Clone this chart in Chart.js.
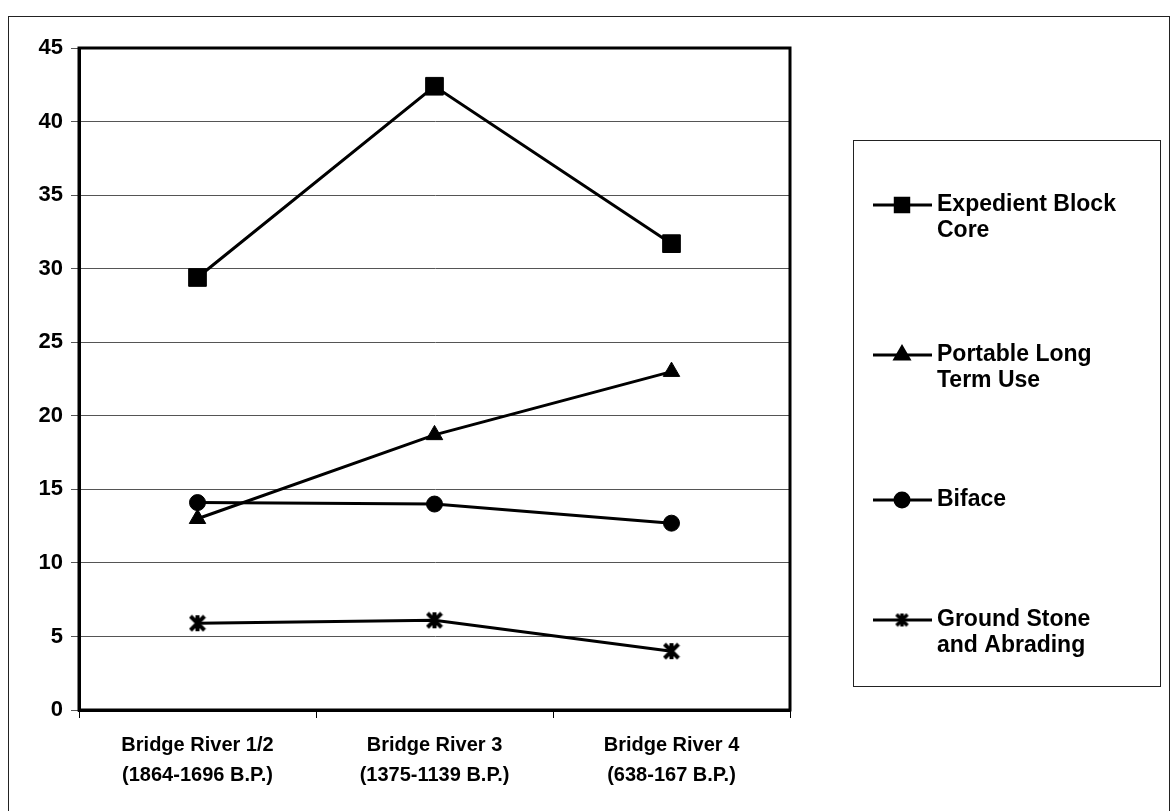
<!DOCTYPE html>
<html>
<head>
<meta charset="utf-8">
<script src="https://cdn.jsdelivr.net/npm/chart.js@4.4.0/dist/chart.umd.min.js"></script>
<style>
  html, body { margin: 0; padding: 0; background: #fff; }
  #wrap { position: relative; width: 1172px; height: 811px; }
  #frame { position: absolute; left: 8px; top: 16px; width: 1162px; height: 800px;
           border: 1px solid #222; box-sizing: border-box; }
  canvas { position: absolute; left: 0; top: 0; }
</style>
</head>
<body>
<div id="wrap">
  <div id="frame"></div>
  <canvas id="c" width="1172" height="811"></canvas>
</div>
<script>
// Tool-type frequencies by occupation period
const categories = [
  ['Bridge River 1/2', '(1864-1696 B.P.)'],
  ['Bridge River 3', '(1375-1139 B.P.)'],
  ['Bridge River 4', '(638-167 B.P.)']
];
const expedientBlockCore = [29.4, 42.4, 31.7];
const portableLongTerm = [13.0, 18.7, 23.0];
const biface = [14.1, 14.0, 12.7];
const groundStone = [5.9, 6.1, 4.0];

const seriesNames = [
  ['Expedient Block', 'Core'],
  ['Portable Long', 'Term Use'],
  ['Biface'],
  ['Ground Stone', 'and Abrading']
];
const yTicks = [0, 5, 10, 15, 20, 25, 30, 35, 40, 45];

const FONT = '"Liberation Sans", Arial, sans-serif';

// Asterisk marker: an X crossed by a vertical bar
function starMarker(size, lw) {
  const c = document.createElement('canvas');
  c.width = size; c.height = size;
  const g = c.getContext('2d');
  g.strokeStyle = '#000';
  g.lineWidth = lw;
  const m = size / 2, r = size / 2 - 2;
  g.beginPath();
  g.moveTo(m - r, m - r); g.lineTo(m + r, m + r);
  g.moveTo(m + r, m - r); g.lineTo(m - r, m + r);
  g.moveTo(m, m - r - 1); g.lineTo(m, m + r + 1);
  g.stroke();
  return c;
}
const star = starMarker(18, 4);
const starSmall = starMarker(15, 3.5);

const markerStyles = [
  { pointStyle: 'rect', radius: 12.5, legendRadius: 9.5 },
  { pointStyle: 'triangle', radius: 9.5, legendRadius: 8 },
  { pointStyle: 'circle', radius: 8, legendRadius: 7 },
  { pointStyle: star, radius: 9, legendStyle: starSmall }
];

const seriesData = [expedientBlockCore, portableLongTerm, biface, groundStone];

const datasets = seriesData.map((d, i) => ({
  label: seriesNames[i].join(' '),
  data: d,
  borderColor: '#000',
  backgroundColor: '#000',
  borderWidth: 3,
  pointStyle: markerStyles[i].pointStyle,
  pointRadius: markerStyles[i].radius,
  pointHoverRadius: markerStyles[i].radius,
  pointBackgroundColor: '#000',
  pointBorderColor: '#000',
  pointBorderWidth: 1,
  tension: 0
}));

// Boxed legend on the right, drawn with the series markers
const boxLegend = {
  id: 'boxLegend',
  afterDraw(chart) {
    const ctx = chart.ctx;
    const box = { x: 853, y: 140, w: 307, h: 546 };
    ctx.save();
    ctx.strokeStyle = '#222';
    ctx.lineWidth = 1;
    ctx.strokeRect(box.x + 0.5, box.y + 0.5, box.w, box.h);
    const rows = [205, 355, 500, 620];
    ctx.font = 'bold 23px ' + FONT;
    ctx.textBaseline = 'middle';
    rows.forEach((ry, i) => {
      // line sample
      ctx.strokeStyle = '#000';
      ctx.lineWidth = 3;
      ctx.beginPath();
      ctx.moveTo(873, ry); ctx.lineTo(932, ry);
      ctx.stroke();
      const ms = markerStyles[i];
      if (ms.legendStyle) {
        const s = ms.legendStyle.width;
        ctx.drawImage(ms.legendStyle, 902 - s / 2, ry - s / 2);
      } else {
        ctx.fillStyle = '#000';
        Chart.helpers.drawPoint(ctx, { pointStyle: ms.pointStyle, radius: ms.legendRadius, borderWidth: 1 }, 902, ry);
      }
      ctx.fillStyle = '#000';
      seriesNames[i].forEach((t, k) => ctx.fillText(t, 937, ry + k * 26));
    });
    ctx.restore();
  }
};

// Heavy border round the plot area
const plotFrame = {
  id: 'plotFrame',
  afterDatasetsDraw(chart) {
    const a = chart.chartArea, ctx = chart.ctx;
    ctx.save();
    ctx.strokeStyle = '#000';
    ctx.lineWidth = 3;
    ctx.strokeRect(a.left, a.top, a.right - a.left, a.bottom - a.top);
    ctx.restore();
  }
};

new Chart(document.getElementById('c'), {
  type: 'line',
  data: { labels: categories, datasets },
  plugins: [boxLegend, plotFrame],
  options: {
    responsive: false,
    animation: false,
    devicePixelRatio: 1,
    layout: { padding: { top: 48, right: 382, bottom: 0, left: 0 } },
    plugins: { legend: { display: false }, tooltip: { enabled: false } },
    scales: {
      x: {
        offset: true,
        grid: { display: true, drawOnChartArea: false, color: '#000', lineWidth: 1, tickLength: 8, offset: true },
        border: { display: true, color: '#000', width: 3 },
        ticks: { color: '#000', font: { family: FONT, size: 20, weight: 'bold', lineHeight: 1.5 }, padding: 12, maxRotation: 0 },
        afterFit(s) { s.height = 101; }
      },
      y: {
        min: 0, max: 45,
        afterBuildTicks(s) { s.ticks = yTicks.map(v => ({ value: v })); },
        grid: { color: '#555', lineWidth: 1, tickLength: 8 },
        border: { display: true, color: '#000', width: 3 },
        ticks: { color: '#000', font: { family: FONT, size: 22, weight: 'bold' }, padding: 8 },
        afterFit(s) { s.width = 79; }
      }
    }
  }
});
</script>
</body>
</html>
